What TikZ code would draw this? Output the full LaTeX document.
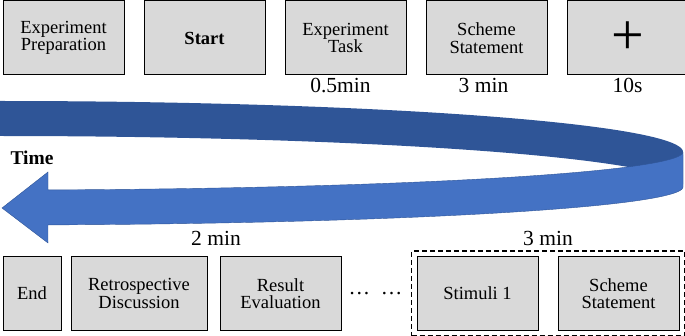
\documentclass[tikz,border=0pt]{standalone}
\usepackage{fontspec}
\setmainfont{Liberation Serif}
\usetikzlibrary{positioning,fit}

\definecolor{ribdark}{HTML}{2F5597}
\definecolor{riblight}{HTML}{4472C4}
\definecolor{boxgray}{HTML}{D9D9D9}

\begin{document}
\begin{tikzpicture}[x=1pt, y=-1pt,
  box/.style={draw, line width=1pt, fill=boxgray, align=center, minimum width=121pt, minimum height=74pt, inner sep=2pt, font=\fontsize{18.5}{17.5}\selectfont},
  lbl/.style={font=\fontsize{21.5}{21.5}\selectfont, inner sep=1pt},
  group/.style={draw, dash pattern=on 5pt off 3pt, line width=1.1pt, inner sep=5pt},
  node distance=19pt
]
\useasboundingbox (0,0) rectangle (685,336);

% the time ribbon
\fill[ribdark] plot[domain=90:0, samples=90] ({683*cos(\x)}, {152-51*sin(\x)}) -- (683,187)
  -- plot[domain=0:90, samples=90] ({683*cos(\x)}, {187-51*sin(\x)}) -- cycle;
\filldraw[riblight, draw=ribdark, line width=0.4pt] (683,152)
  -- plot[domain=0:85.97, samples=90] ({683*cos(\x)}, {152+38*sin(\x)})
  -- (48,172) -- (2,208) -- (48,243)
  -- plot[domain=85.97:0, samples=90] ({683*cos(\x)}, {187+38*sin(\x)}) -- cycle;
\node[font=\fontsize{19.5}{19.5}\selectfont\bfseries, inner sep=0pt] (time) at (32,158) {Time};

% upper row
\node[box] (prep) at (63.5,38) {Experiment\\Preparation};
\node[box, right=of prep] (start) {\textbf{Start}};
\node[box, right=of start] (task) {Experiment\\Task};
\node[box, right=of task] (scheme) {Scheme\\Statement};
\node[box, right=of scheme, font=\fontsize{58}{58}\selectfont] (fix) {+};

\node[lbl, below=2pt of task, xshift=-5pt] (ttask) {0.5min};
\node[lbl, below=2pt of scheme, xshift=-3pt] (tscheme) {3 min};
\node[lbl, below=2pt of fix] (tfix) {10s};

% lower row
\node[box, minimum width=58pt] (end) at (32,293.5) {End};
\node[box, minimum width=136pt, right=9pt of end] (retro) {Retrospective\\Discussion};
\node[box, right=12pt of retro] (result) {Result\\Evaluation};
\node[lbl, right=6pt of result] (dots) {\dots\enspace\dots};
\node[box] (stim) at (477.5,293.5) {Stimuli 1};
\node[box, right=of stim] (scheme2) {Scheme\\Statement};
\node[group, fit=(stim)(scheme2)] (frame) {};

\node[lbl] (tretro) at (216,238) {2 min};
\node[lbl] (tstim) at (frame.north |- tretro) {3 min};

\end{tikzpicture}
\end{document}
